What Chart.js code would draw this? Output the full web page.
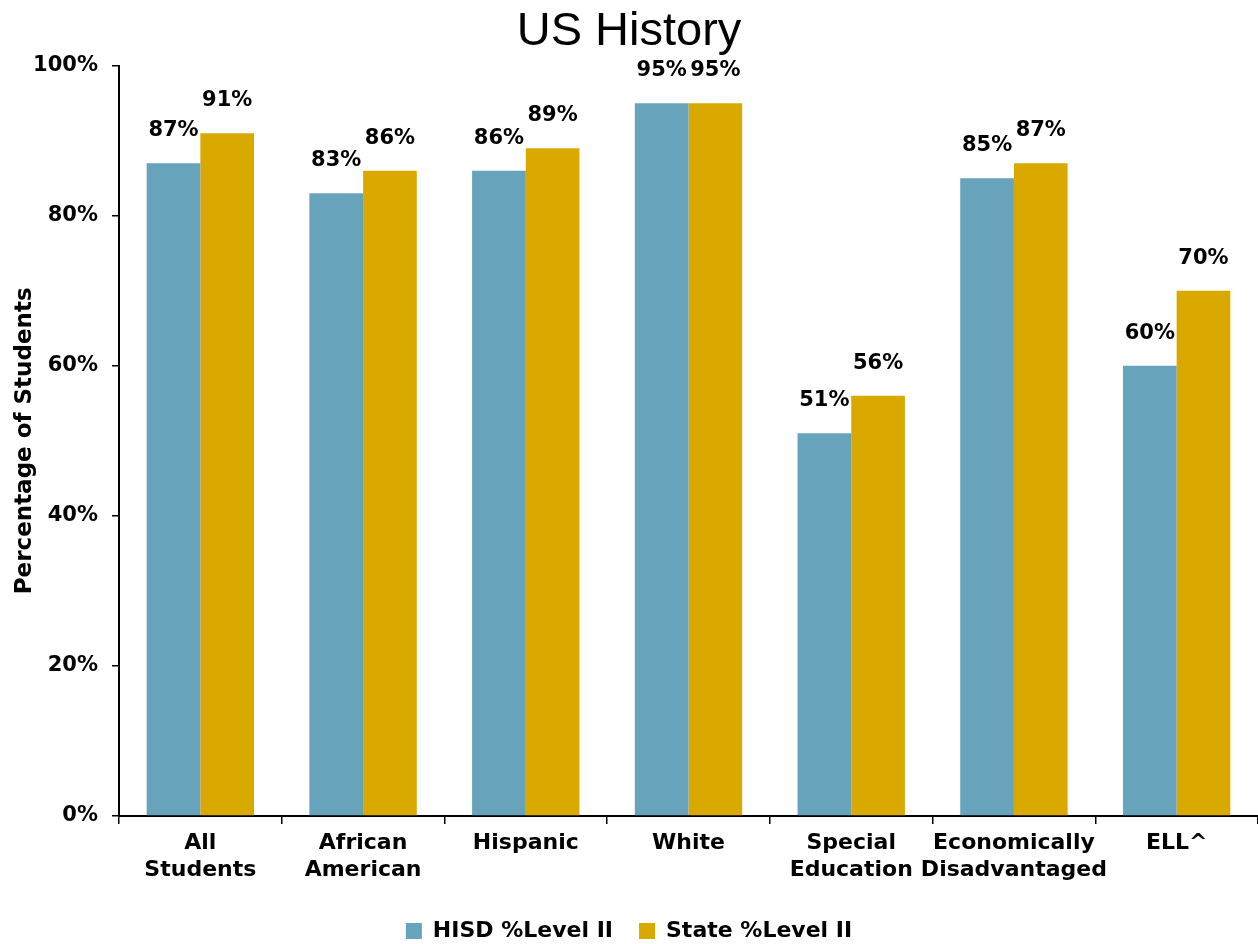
<!DOCTYPE html>
<html>
<head>
<meta charset="utf-8">
<script src="https://cdn.jsdelivr.net/npm/chart.js@4.4.1/dist/chart.umd.min.js"></script>
<style>
  html, body { margin: 0; padding: 0; background: #fff; overflow: hidden; }
  #wrap { width: 1258px; height: 944px; }
</style>
</head>
<body>
<div id="wrap"><canvas id="chart" width="1258" height="944"></canvas></div>
<script>
// ---- data ----
const categories = [
  ["All", "Students"],
  ["African", "American"],
  ["Hispanic"],
  ["White"],
  ["Special", "Education"],
  ["Economically", "Disadvantaged"],
  ["ELL^"]
];
const hisdLevel2 = [87, 83, 86, 95, 51, 85, 60];
const stateLevel2 = [91, 86, 89, 95, 56, 87, 70];
const yTicks = [0, 20, 40, 60, 80, 100];

const FONT = "'DejaVu Sans', sans-serif";
const TITLE_FONT = "'Liberation Sans', Arial, sans-serif";

// labels above bars
const barLabels = {
  id: "barLabels",
  afterDatasetsDraw(chart) {
    const ctx = chart.ctx;
    ctx.save();
    ctx.font = "bold 21px " + FONT;
    ctx.fillStyle = "#000";
    ctx.textAlign = "center";
    ctx.textBaseline = "bottom";
    chart.data.datasets.forEach((ds, i) => {
      chart.getDatasetMeta(i).data.forEach((bar, j) => {
        ctx.fillText(ds.data[j] + "%", bar.x, bar.y - 22);
      });
    });
    ctx.restore();
  }
};

new Chart(document.getElementById("chart"), {
  type: "bar",
  data: {
    labels: categories,
    datasets: [
      { label: "HISD %Level II", data: hisdLevel2, backgroundColor: "#67A3BA",
        categoryPercentage: 0.66, barPercentage: 1.0 },
      { label: "State %Level II", data: stateLevel2, backgroundColor: "#DAA900",
        categoryPercentage: 0.66, barPercentage: 1.0 }
    ]
  },
  options: {
    responsive: false,
    animation: false,
    layout: { padding: { left: 0, right: 0, top: 0, bottom: 0 } },
    plugins: {
      title: {
        display: true,
        text: "US History",
        color: "#000",
        font: { family: TITLE_FONT, size: 47, weight: "normal", lineHeight: 1.1 },
        padding: { top: 6, bottom: 8 }
      },
      legend: {
        position: "bottom",
        maxHeight: 50,
        labels: {
          color: "#000",
          font: { family: FONT, size: 22, weight: "bold" },
          boxWidth: 16,
          boxHeight: 16,
          padding: 26
        }
      },
      tooltip: { enabled: false }
    },
    scales: {
      x: {
        grid: { display: true, drawOnChartArea: false, drawTicks: true, tickLength: 8, color: "#000", lineWidth: 1.5, offset: true },
        border: { display: true, color: "#000", width: 2 },
        ticks: {
          color: "#000",
          font: { family: FONT, size: 22, weight: "bold", lineHeight: 1.22 },
          maxRotation: 0,
          autoSkip: false,
          padding: 6
        },
        afterFit(scale) { scale.height = 78; }
      },
      y: {
        min: 0,
        max: 100,
        afterBuildTicks(scale) { scale.ticks = yTicks.map(v => ({ value: v })); },
        grid: { display: true, drawOnChartArea: false, drawTicks: true, tickLength: 7, color: "#000", lineWidth: 1.5 },
        border: { display: true, color: "#000", width: 2 },
        ticks: {
          color: "#000",
          font: { family: FONT, size: 21, weight: "bold" },
          padding: 14,
          callback: v => v + "%"
        },
        title: {
          display: true,
          text: "Percentage of Students",
          color: "#000",
          font: { family: FONT, size: 23, weight: "bold" },
          padding: { top: 11, bottom: 8 }
        },
        afterFit(scale) { scale.width = 119; }
      }
    }
  },
  plugins: [barLabels]
});
</script>
</body>
</html>
